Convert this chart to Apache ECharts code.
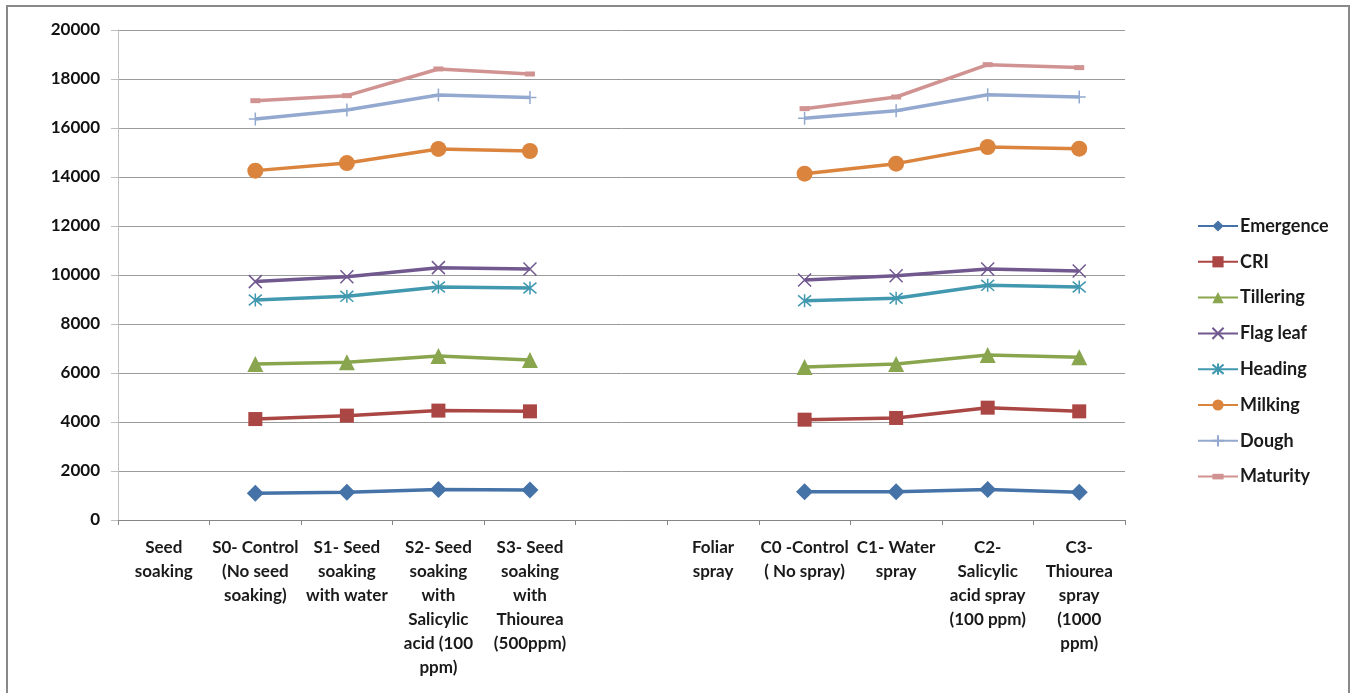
<!DOCTYPE html>
<html>
<head>
<meta charset="utf-8">
<script src="https://cdn.jsdelivr.net/npm/echarts@6/dist/echarts.min.js"></script>
<style>
  html, body { margin: 0; padding: 0; background: #fff; }
  #chart { width: 1354px; height: 693px; }
</style>
</head>
<body>
<div id="chart"></div>
<script>
// Treatment groups along the x axis (group headers carry no values)
const categories = [
  'Seed\nsoaking',
  'S0- Control\n(No seed\nsoaking)',
  'S1- Seed\nsoaking\nwith water',
  'S2- Seed\nsoaking\nwith\nSalicylic\nacid (100\nppm)',
  'S3- Seed\nsoaking\nwith\nThiourea\n(500ppm)',
  '',
  'Foliar\nspray',
  'C0 -Control\n( No spray)',
  'C1- Water\nspray',
  'C2-\nSalicylic\nacid spray\n(100 ppm)',
  'C3-\nThiourea\nspray\n(1000\nppm)'
];

// Values per growth stage, in category order
const emergence = [null, 1090, 1130, 1240, 1225, null, null, 1155, 1155, 1240, 1130];
const cri       = [null, 4120, 4260, 4465, 4435, null, null, 4095, 4165, 4585, 4435];
const tillering = [null, 6365, 6435, 6695, 6530, null, null, 6245, 6365, 6735, 6640];
const flagLeaf  = [null, 9730, 9930, 10300, 10245, null, null, 9795, 9970, 10245, 10165];
const heading   = [null, 8980, 9130, 9510, 9470, null, null, 8950, 9050, 9580, 9510];
const milking   = [null, 14260, 14570, 15145, 15060, null, null, 14135, 14545, 15225, 15155];
const dough     = [null, 16365, 16735, 17345, 17240, null, null, 16395, 16705, 17360, 17265];
const maturity  = [null, 17115, 17320, 18410, 18205, null, null, 16790, 17265, 18585, 18465];

const yTicks = { min: 0, max: 20000, interval: 2000 };

const FONT = 'Lato, "Open Sans", sans-serif';

// Marker shapes drawn as stroked paths
const xMark = 'path://M0,0L10,10M10,0L0,10';
const starMark = 'path://M0,0L10,10M10,0L0,10M5,-1L5,11';
const plusMark = 'path://M5,0L5,10M0,5L10,5';
// short horizontal dash centred in a square box
const dashMark = 'path://M0,0M0,2.5L10,2.5L10,7.5L0,7.5ZM10,10';

function mk(name, data, color, symbol, size, stroked) {
  return {
    name: name,
    type: 'line',
    data: data,
    symbol: symbol,
    symbolSize: size,
    connectNulls: false,
    lineStyle: { color: color, width: 3.5 },
    itemStyle: stroked
      ? { color: 'rgba(0,0,0,0)', borderColor: color, borderWidth: 1.5 }
      : { color: color, borderColor: color, borderWidth: 0 },
    emphasis: { disabled: true },
    z: 3
  };
}

const series = [
  mk('Emergence', emergence, '#4572A7', 'diamond', 17, false),
  mk('CRI', cri, '#AA4643', 'rect', 14, false),
  mk('Tillering', tillering, '#89A54E', 'triangle', 16, false),
  mk('Flag leaf', flagLeaf, '#71588F', xMark, 13, true),
  mk('Heading', heading, '#4198AF', starMark, 13, true),
  mk('Milking', milking, '#DB843D', 'circle', 16, false),
  mk('Dough', dough, '#93A9CF', plusMark, 13, true),
  mk('Maturity', maturity, '#D19392', dashMark, 10, false)
];

const chart = echarts.init(document.getElementById('chart'), null, { renderer: 'canvas' });
chart.setOption({
  backgroundColor: '#ffffff',
  animation: false,
  graphic: [{
    type: 'rect',
    shape: { x: 7, y: 6, width: 1342, height: 700 },
    style: { fill: 'none', stroke: '#898989', lineWidth: 2 },
    silent: true
  }],
  grid: { left: 118, right: 229, top: 30, bottom: 173 },
  legend: {
    orient: 'vertical',
    left: 1197,
    top: 217,
    padding: 0,
    itemWidth: 40,
    itemHeight: 14,
    itemGap: 17.8,
    textStyle: { fontFamily: FONT, fontWeight: 'bold', fontSize: 18, lineHeight: 16, color: '#1a1a1a', padding: [0, 0, 0, -3] },
    data: series.map(s => s.name)
  },
  xAxis: {
    type: 'category',
    data: categories,
    boundaryGap: true,
    axisLine: { lineStyle: { color: '#868686', width: 1 } },
    axisTick: { show: true, length: 5, alignWithLabel: false, lineStyle: { color: '#868686' } },
    axisLabel: {
      interval: 0,
      margin: 16,
      fontFamily: FONT,
      fontWeight: 'bold',
      fontSize: 17,
      lineHeight: 24,
      color: '#1a1a1a',
      align: 'center'
    },
    splitLine: { show: false }
  },
  yAxis: {
    type: 'value',
    min: yTicks.min,
    max: yTicks.max,
    interval: yTicks.interval,
    axisLine: { show: true, lineStyle: { color: '#bfbfbf', width: 1 } },
    axisTick: { show: true, length: 7, lineStyle: { color: '#bfbfbf' } },
    axisLabel: {
      margin: 18,
      fontFamily: FONT,
      fontWeight: 'bold',
      fontSize: 17,
      color: '#111',
      formatter: v => String(v)
    },
    splitLine: { show: true, lineStyle: { color: '#9a9a9a', width: 1 } }
  },
  series: series
});
</script>
</body>
</html>
